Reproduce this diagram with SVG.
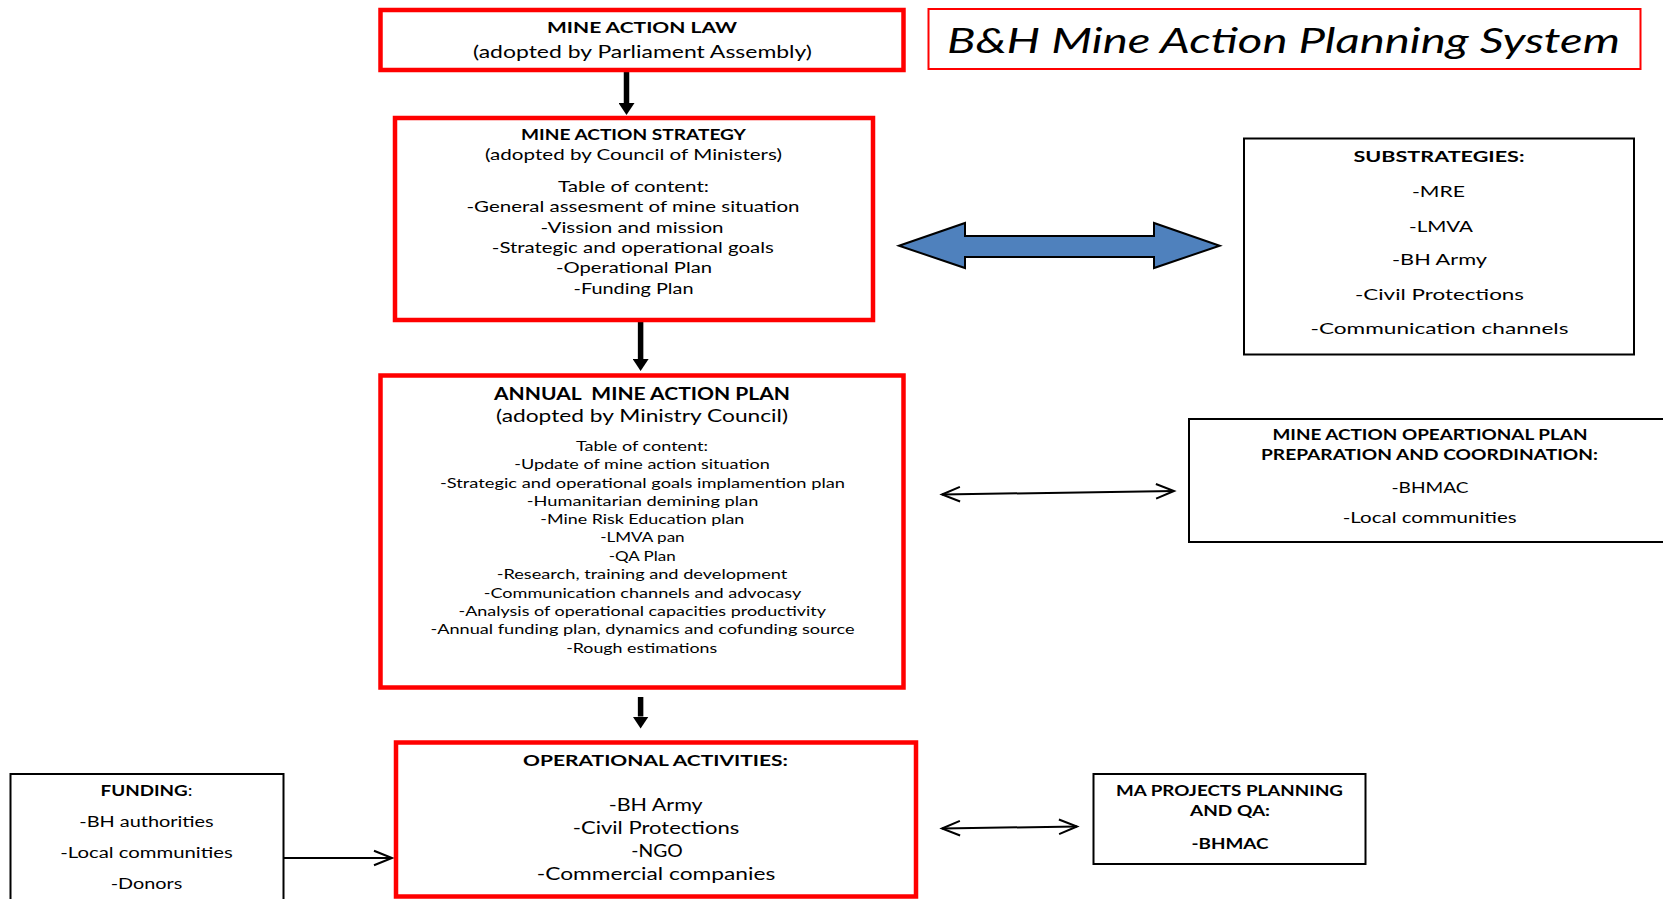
<svg xmlns="http://www.w3.org/2000/svg" width="1663" height="899" viewBox="0 0 1663 899">
<style>
text{font-family:Lato,"Liberation Sans",sans-serif;fill:#000;text-anchor:middle}
.b{font-weight:bold}
.red{fill:#fff;stroke:#f00;stroke-width:4.5}
.blk{fill:#fff;stroke:#000;stroke-width:2}
.thick{stroke:#000;stroke-width:5.5;fill:none}
.thin{stroke:#000;stroke-width:2;fill:none}
</style>
<defs>
<marker id="tri" markerUnits="userSpaceOnUse" markerWidth="12" markerHeight="16" refX="0" refY="8" orient="auto" viewBox="0 0 12 16">
<path d="M0,0 L12,8 L0,16 Z" fill="#000"/>
</marker>
<marker id="chev" markerUnits="userSpaceOnUse" markerWidth="22" markerHeight="18" refX="19" refY="9" orient="auto-start-reverse" viewBox="0 0 22 18">
<path d="M1,1.7 L19,9 L1,16.3" fill="none" stroke="#000" stroke-width="2"/>
</marker>
</defs>
<rect width="1663" height="899" fill="#fff"/>

<g id="connectors">
<line class="thick" x1="626.5" y1="72" x2="626.5" y2="103" marker-end="url(#tri)"/>
<line class="thick" x1="640.6" y1="322" x2="640.6" y2="359" marker-end="url(#tri)"/>
<line class="thick" x1="640.6" y1="697" x2="640.6" y2="716.5" marker-end="url(#tri)"/>
<polygon points="899,245.7 965,223 965,236 1154,236 1154,223 1219.7,245.7 1154,268 1154,257 965,257 965,268" fill="#4f81bd" stroke="#000" stroke-width="2"/>
<line class="thin" x1="942" y1="494.5" x2="1174" y2="491" marker-start="url(#chev)" marker-end="url(#chev)"/>
<line class="thin" x1="942" y1="828.5" x2="1077" y2="826.5" marker-start="url(#chev)" marker-end="url(#chev)"/>
<line class="thin" x1="284" y1="858" x2="392" y2="858" marker-end="url(#chev)"/>
</g>

<g id="law">
<rect class="red" x="380.5" y="10" width="523" height="60"/>
<text class="b" x="642" y="33" font-size="16" textLength="190" lengthAdjust="spacingAndGlyphs">MINE ACTION LAW</text>
<text x="642.5" y="58" font-size="17" textLength="339" lengthAdjust="spacingAndGlyphs">(adopted by Parliament Assembly)</text>
</g>

<g id="title">
<rect x="928.5" y="9" width="712" height="60" fill="#fff" stroke="#f00" stroke-width="2"/>
<text x="1283.5" y="53" font-size="35" font-style="italic" textLength="673" lengthAdjust="spacingAndGlyphs">B&amp;H Mine Action Planning System</text>
</g>

<g id="strategy">
<rect class="red" x="395" y="118" width="478" height="202"/>
<text class="b" x="633.5" y="139.5" font-size="16" textLength="225" lengthAdjust="spacingAndGlyphs">MINE ACTION STRATEGY</text>
<text x="633.5" y="159.5" font-size="16" textLength="297" lengthAdjust="spacingAndGlyphs">(adopted by Council of Ministers)</text>
<text x="633.5" y="191.5" font-size="16" textLength="151" lengthAdjust="spacingAndGlyphs">Table of content:</text>
<text x="633" y="211.5" font-size="16" textLength="333" lengthAdjust="spacingAndGlyphs">-General assesment of mine situation</text>
<text x="632" y="232.5" font-size="16" textLength="183" lengthAdjust="spacingAndGlyphs">-Vission and mission</text>
<text x="632.8" y="252.5" font-size="16" textLength="282" lengthAdjust="spacingAndGlyphs">-Strategic and operational goals</text>
<text x="634" y="273" font-size="16" textLength="156" lengthAdjust="spacingAndGlyphs">-Operational Plan</text>
<text x="633.5" y="293.5" font-size="16" textLength="120" lengthAdjust="spacingAndGlyphs">-Funding Plan</text>
</g>

<g id="substrategies">
<rect class="blk" x="1244" y="138.5" width="390" height="216"/>
<text class="b" x="1439" y="162" font-size="16" textLength="171" lengthAdjust="spacingAndGlyphs">SUBSTRATEGIES:</text>
<text x="1438.5" y="196.5" font-size="16" textLength="53" lengthAdjust="spacingAndGlyphs">-MRE</text>
<text x="1441" y="231.5" font-size="16" textLength="64" lengthAdjust="spacingAndGlyphs">-LMVA</text>
<text x="1439.5" y="265" font-size="16" textLength="95" lengthAdjust="spacingAndGlyphs">-BH Army</text>
<text x="1439.5" y="300" font-size="16" textLength="169" lengthAdjust="spacingAndGlyphs">-Civil Protections</text>
<text x="1439.5" y="334" font-size="16" textLength="258" lengthAdjust="spacingAndGlyphs">-Communication channels</text>
</g>

<g id="annual">
<rect class="red" x="380.5" y="375.5" width="523" height="312"/>
<text class="b" x="642" y="399.5" font-size="16.5" textLength="296" lengthAdjust="spacingAndGlyphs" xml:space="preserve">ANNUAL  MINE ACTION PLAN</text>
<text x="642" y="422" font-size="18" textLength="292" lengthAdjust="spacingAndGlyphs">(adopted by Ministry Council)</text>
<text x="642" y="450.5" font-size="14" textLength="132" lengthAdjust="spacingAndGlyphs">Table of content:</text>
<text x="642" y="468.5" font-size="14" textLength="255.5" lengthAdjust="spacingAndGlyphs">-Update of mine action situation</text>
<text x="642.5" y="487.5" font-size="14" textLength="405" lengthAdjust="spacingAndGlyphs">-Strategic and operational goals implamention plan</text>
<text x="642.6" y="505.5" font-size="14" textLength="231.5" lengthAdjust="spacingAndGlyphs">-Humanitarian demining plan</text>
<text x="642.3" y="523.5" font-size="14" textLength="204" lengthAdjust="spacingAndGlyphs">-Mine Risk Education plan</text>
<text x="642.4" y="542" font-size="14" textLength="84.5" lengthAdjust="spacingAndGlyphs">-LMVA pan</text>
<text x="642.2" y="560.5" font-size="14" textLength="67" lengthAdjust="spacingAndGlyphs">-QA Plan</text>
<text x="642" y="579" font-size="14" textLength="290.5" lengthAdjust="spacingAndGlyphs">-Research, training and development</text>
<text x="642.5" y="597.5" font-size="14" textLength="317.5" lengthAdjust="spacingAndGlyphs">-Communication channels and advocasy</text>
<text x="642.3" y="615.5" font-size="14" textLength="367.5" lengthAdjust="spacingAndGlyphs">-Analysis of operational capacities productivity</text>
<text x="642.5" y="634" font-size="14" textLength="424" lengthAdjust="spacingAndGlyphs">-Annual funding plan, dynamics and cofunding source</text>
<text x="641.7" y="652.5" font-size="14" textLength="151" lengthAdjust="spacingAndGlyphs">-Rough estimations</text>
</g>

<g id="operational-plan">
<rect class="blk" x="1189" y="419" width="490" height="123"/>
<text class="b" x="1430" y="440" font-size="15" textLength="315" lengthAdjust="spacingAndGlyphs">MINE ACTION OPEARTIONAL PLAN</text>
<text class="b" x="1429.5" y="460" font-size="15" textLength="337" lengthAdjust="spacingAndGlyphs">PREPARATION AND COORDINATION:</text>
<text x="1430" y="493" font-size="15.5" textLength="77" lengthAdjust="spacingAndGlyphs">-BHMAC</text>
<text x="1429.7" y="523" font-size="15.5" textLength="174" lengthAdjust="spacingAndGlyphs">-Local communities</text>
</g>

<g id="operational-activities">
<rect class="red" x="396" y="742.5" width="520" height="154"/>
<text class="b" x="655.5" y="765.5" font-size="16" textLength="265" lengthAdjust="spacingAndGlyphs">OPERATIONAL ACTIVITIES:</text>
<text x="655.7" y="811" font-size="17.5" textLength="94" lengthAdjust="spacingAndGlyphs">-BH Army</text>
<text x="656" y="834" font-size="17.5" textLength="166.5" lengthAdjust="spacingAndGlyphs">-Civil Protections</text>
<text x="657" y="856.5" font-size="17.5" textLength="51.5" lengthAdjust="spacingAndGlyphs">-NGO</text>
<text x="656" y="879.5" font-size="17.5" textLength="238.5" lengthAdjust="spacingAndGlyphs">-Commercial companies</text>
</g>

<g id="funding">
<rect class="blk" x="10.5" y="774" width="273" height="140"/>
<text x="146.5" y="795.5" font-size="15.5" textLength="92" lengthAdjust="spacingAndGlyphs"><tspan class="b">FUNDING</tspan>:</text>
<text x="146.5" y="827" font-size="15.5" textLength="134.5" lengthAdjust="spacingAndGlyphs">-BH authorities</text>
<text x="146.5" y="858" font-size="15.5" textLength="172.5" lengthAdjust="spacingAndGlyphs">-Local communities</text>
<text x="146.5" y="888.5" font-size="15.5" textLength="71.5" lengthAdjust="spacingAndGlyphs">-Donors</text>
</g>

<g id="ma-projects">
<rect class="blk" x="1093.5" y="774" width="272" height="90"/>
<text class="b" x="1229.5" y="796" font-size="15" textLength="227" lengthAdjust="spacingAndGlyphs">MA PROJECTS PLANNING</text>
<text class="b" x="1230" y="816" font-size="15" textLength="80" lengthAdjust="spacingAndGlyphs">AND QA:</text>
<text class="b" x="1230" y="848.5" font-size="15" textLength="77" lengthAdjust="spacingAndGlyphs">-BHMAC</text>
</g>
</svg>
